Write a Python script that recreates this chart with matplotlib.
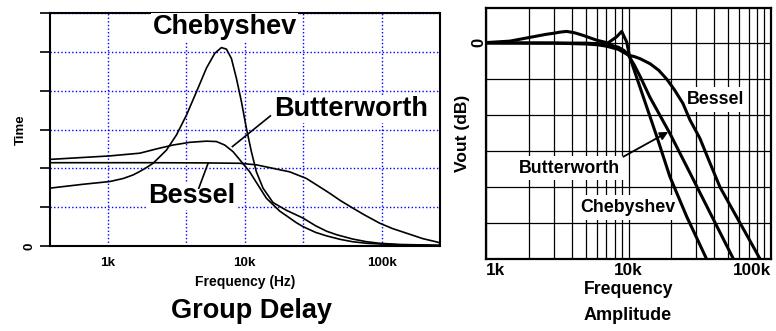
import numpy as np
import matplotlib
matplotlib.use("Agg")
import matplotlib.pyplot as plt

plt.rcParams['font.family'] = ['Liberation Sans', 'DejaVu Sans']
plt.rcParams['font.weight'] = 'bold'

# group delay (arbitrary time units) vs frequency in Hz
gd_bessel_f = [378, 2000, 5000, 9194, 12170, 16090, 21300, 28210, 34000, 41700,
               50000, 61400, 75000, 96600, 120000, 152000, 200000, 256000, 265000]
gd_bessel = [2.145, 2.145, 2.14, 2.13, 2.09, 2.00, 1.91, 1.74, 1.56, 1.36,
             1.17, 0.98, 0.80, 0.59, 0.45, 0.33, 0.19, 0.10, 0.08]

gd_butter_f = [378, 1034, 1713, 2267, 2996, 3967, 5253, 6215, 7145, 8214, 9461,
               10880, 12510, 14400, 18010, 20160, 23850, 26640, 33000, 39700, 50000,
               61400, 77800, 100000, 135000, 200000, 265000]
gd_butter = [2.23, 2.32, 2.39, 2.50, 2.60, 2.67, 2.70, 2.69, 2.60, 2.43, 2.17,
             1.91, 1.57, 1.23, 0.90, 0.78, 0.60, 0.50, 0.35, 0.26, 0.17,
             0.11, 0.07, 0.05, 0.03, 0.02, 0.01]

gd_cheby_f = [378, 661, 1034, 1300, 1530, 1713, 1917, 2142, 2682, 3173, 3754,
              4441, 5253, 6039, 6760, 7351, 7994, 8696, 9461, 10290, 11190,
              12170, 13610, 16090, 18000, 20160, 26640, 33000, 39700, 47000, 61400,
              77800, 96600, 135000, 180000, 265000]
gd_cheby = [1.49, 1.59, 1.66, 1.74, 1.83, 1.92, 2.02, 2.13, 2.47, 2.86, 3.37,
            3.97, 4.58, 4.96, 5.11, 5.07, 4.83, 4.32, 3.72, 3.03, 2.43,
            1.91, 1.49, 1.12, 1.02, 0.92, 0.72, 0.52, 0.38, 0.29, 0.18,
            0.11, 0.07, 0.04, 0.03, 0.02]

# amplitude response in dB vs frequency in Hz
amp_bessel_f = [1000, 3000, 5000, 6000, 7000, 8500, 10000, 11000, 12100, 14200,
                16300, 18500, 21000, 24100, 27000, 31700, 37000, 43800, 54100,
                67500, 83800]
amp_bessel = [0, -0.05, -0.3, -0.5, -0.9, -1.8, -3.4, -3.8, -4.4, -5.8,
              -7.6, -10, -13, -16.8, -21.4, -26.5, -33, -40, -46.5,
              -53.3, -60]

amp_butter_f = [1000, 5000, 7000, 8500, 9300, 10000, 11000, 12100, 14100, 19500,
                27000, 37500, 55800]
amp_butter = [0, -0.05, -0.3, -1.2, -2.1, -3.4, -6.2, -9.4, -15, -25.1,
              -36.1, -47.3, -60.8]

amp_cheby_f = [1000, 1470, 2270, 2650, 3000, 3300, 3680, 4200, 4800, 5990, 7180,
               8260, 8960, 9700, 10200, 12700, 15800, 19500, 25600, 35500]
amp_cheby = [0.1, 0.5, 1.9, 2.4, 2.7, 3.0, 3.2, 2.8, 2.1, 0.75, 0.0,
             1.7, 3.2, 0.3, -3.9, -15, -26, -37.1, -48.2, -60.2]

gd_grid_f = [1e3, 3.71e3, 1e4, 2.65e4, 1e5]
gd_tick_labels = ['1k', '', '10k', '', '100k']
amp_tick_labels = ['1k', '10k', '100k']

fig = plt.figure(figsize=(7.76, 3.31), dpi=100)

# ---- group delay ----
ax1 = fig.add_axes([50 / 776, 1 - 246 / 331, 389.5 / 776, 233 / 331])
ax1.set_xscale('log')
ax1.set_xlim(378, 265000)
ax1.set_ylim(0, 6)
for f, v in [(gd_cheby_f, gd_cheby), (gd_butter_f, gd_butter), (gd_bessel_f, gd_bessel)]:
    ax1.plot(f, v, color='black', lw=1.2, zorder=4)

ax1.set_xticks(gd_grid_f)
ax1.set_xticklabels(gd_tick_labels, fontsize=9.7, fontweight='bold')
ax1.xaxis.set_minor_locator(matplotlib.ticker.NullLocator())
ax1.tick_params(axis='x', length=0, pad=8)
ax1.set_yticks(range(7))
ax1.set_yticklabels(['0', '', '', '', '', '', ''], rotation=90, va='center',
                    fontsize=9.5, fontweight='bold')
ax1.tick_params(axis='y', direction='out', length=7.2, width=1.2, pad=3)
ax1.grid(True, color='#0000ff', lw=1.0, linestyle=(0, (1, 1.6)))
for s in ax1.spines.values():
    s.set_linewidth(1.5)
ax1.set_xlabel('Frequency (Hz)', fontsize=10, fontweight='bold', labelpad=4)
ax1.set_ylabel('Time', fontsize=9.5, fontweight='bold', labelpad=-2)

box = dict(boxstyle='square,pad=0.05', fc='white', ec='none')
ax1.text(7150, 5.64, 'Chebyshev', fontsize=19.5, fontweight='bold',
         ha='center', va='center', bbox=box, zorder=3)
ax1.text(59800, 3.53, 'Butterworth', fontsize=19.5, fontweight='bold',
         ha='center', va='center', bbox=box, zorder=3)
ax1.text(4070, 1.29, 'Bessel', fontsize=19.5, fontweight='bold',
         ha='center', va='center', bbox=box, zorder=3)
ax1.plot([8130, 15400], [2.56, 3.35], color='black', lw=1.2, zorder=4)
ax1.plot([5400, 4620], [2.13, 1.49], color='black', lw=1.2, zorder=4)

fig.text(251.5 / 776, 1 - 311 / 331, 'Group Delay', fontsize=19.5,
         fontweight='bold', ha='center', va='center')

# ---- amplitude ----
ax2 = fig.add_axes([486 / 776, 1 - 259 / 331, 285 / 776, 251 / 331])
ax2.set_xscale('log')
ax2.set_xlim(1000, 100000)
ax2.set_ylim(-60, 9.7)
for f, v in [(amp_bessel_f, amp_bessel), (amp_butter_f, amp_butter), (amp_cheby_f, amp_cheby)]:
    ax2.plot(f, v, color='black', lw=2.2, zorder=4, solid_capstyle='butt')

ax2.set_xticks([1e3, 1e4, 1e5])
ax2.set_xticklabels(amp_tick_labels, fontsize=12.3, fontweight='bold')
xl = ax2.get_xticklabels()
xl[0].set_ha('left')
xl[-1].set_ha('right')
ax2.xaxis.set_minor_locator(matplotlib.ticker.LogLocator(base=10, subs=np.arange(2, 10)))
ax2.xaxis.set_minor_formatter(matplotlib.ticker.NullFormatter())
ax2.set_yticks(np.arange(-60, 1, 10))
ax2.set_yticklabels(['', '', '', '', '', '', '0'], rotation=90, va='center',
                    fontsize=12, fontweight='bold')
ax2.tick_params(which='both', length=0)
ax2.tick_params(axis='x', pad=3)
ax2.tick_params(axis='y', pad=0)
ax2.grid(True, which='both', color='black', lw=0.9)
for s in ax2.spines.values():
    s.set_linewidth(1.6)
ax2.set_xlabel('Frequency', fontsize=12.7, fontweight='bold', labelpad=2)
ax2.set_ylabel('Vout (dB)', fontsize=12.5, fontweight='bold', labelpad=0.5)

box2 = dict(boxstyle='square,pad=0.2', fc='white', ec='none')
ax2.text(40900, -15.7, 'Bessel', fontsize=12.8, fontweight='bold',
         ha='center', va='center', bbox=box2, zorder=3)
ax2.text(3850, -34.8, 'Butterworth', fontsize=12.8, fontweight='bold',
         ha='center', va='center', bbox=box2, zorder=3)
ax2.text(9870, -45.7, 'Chebyshev', fontsize=12.8, fontweight='bold',
         ha='center', va='center', bbox=box2, zorder=3)
ax2.annotate('', xy=(19000, -24.7), xytext=(9200, -31.6),
             arrowprops=dict(arrowstyle='-|>', color='black', lw=1.3,
                             mutation_scale=12, shrinkA=0, shrinkB=0), zorder=5)

fig.text(628 / 776, 1 - 316 / 331, 'Amplitude', fontsize=13, fontweight='bold',
         ha='center', va='center')

fig.savefig('out.png', dpi=100)
